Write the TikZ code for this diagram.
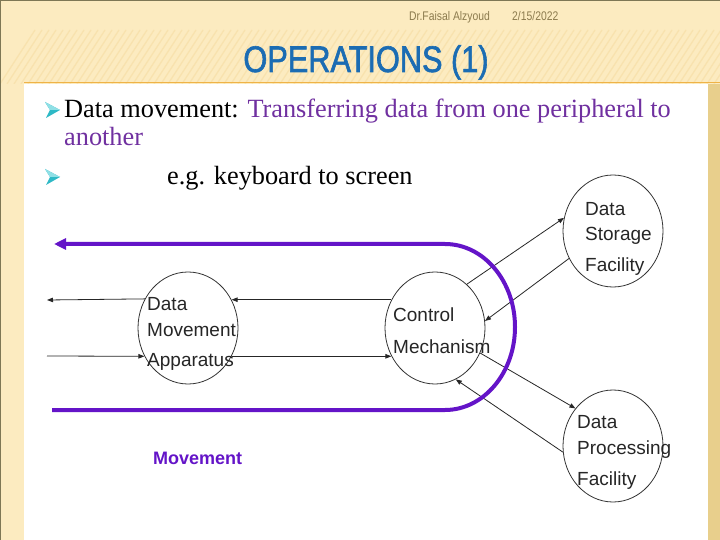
\documentclass[tikz,border=0pt]{standalone}
\usepackage{fontspec}
\setmainfont{Liberation Serif}
\newfontfamily\arialfont{Liberation Sans}
\newfontfamily\narrowfont[FakeStretch=0.83]{Liberation Sans}
\newfontfamily\titlefont[FakeStretch=0.83,FakeBold=1.6]{Liberation Sans}
\usetikzlibrary{arrows.meta,shapes.geometric}
\definecolor{bgcream}{HTML}{FCEBC0}
\definecolor{stripec}{HTML}{F8E2AE}
\definecolor{goldstrip}{HTML}{E8CF8C}
\definecolor{orangeline}{HTML}{EFB347}
\definecolor{borderc}{HTML}{7E7755}
\definecolor{headc}{HTML}{8C7B4E}
\definecolor{titleblue}{HTML}{1B6CB3}
\definecolor{textpurple}{HTML}{7030A0}
\definecolor{linepurple}{HTML}{6414C8}
\definecolor{bullett}{HTML}{2EB9C6}
\definecolor{bulletl}{HTML}{8FE0E6}
\begin{document}
\begin{tikzpicture}[x=1bp,y=-1bp,
  circ/.style={draw=black!80, line width=0.8bp, ellipse, minimum width=100bp, minimum height=112bp, inner sep=0pt},
  lab/.style={anchor=base west, inner sep=0pt, font=\arialfont\fontsize{19bp}{22bp}\selectfont, text=black!85},
  conn/.style={draw=black!85, line width=0.8bp, -{Triangle[length=6bp,width=4.5bp]}},
  pline/.style={draw=linepurple, line width=4bp},
  body/.style={anchor=base west, inner sep=0pt, font=\fontsize{26.3bp}{30bp}\selectfont},
  bulletsh/.style={fill=bullett},
]
\useasboundingbox (0,0) rectangle (720,540);
% background
\fill[bgcream] (0,0) rectangle (720,540);
\begin{scope}
  \clip (0,30) rectangle (720,84);
  \foreach \i in {0,7,...,760} {
    \draw[stripec, line width=1.3bp] (\i,84) -- (\i+35,30);
  }
\end{scope}
\fill[white] (24,84) rectangle (708,540);
\fill[goldstrip] (708,84) rectangle (720,540);
\draw[orangeline, line width=1bp] (24,83) -- (720,83);
\draw[borderc, line width=1.2bp] (0,0.6) -- (720,0.6);
\draw[borderc, line width=1.2bp] (0.6,0) -- (0.6,540);
% header
\node[anchor=base west, inner sep=0pt, text=headc, font=\narrowfont\fontsize{12.5bp}{14bp}\selectfont] (author) at (409,21) {Dr.Faisal Alzyoud};
\node[anchor=base west, inner sep=0pt, text=headc, font=\narrowfont\fontsize{12.5bp}{14bp}\selectfont] (date) at (512,21) {2/15/2022};
\node[anchor=base, inner sep=0pt, text=titleblue, font=\titlefont\fontsize{37bp}{40bp}\selectfont] (title) at (366,72) {OPERATIONS (1)};
% bullets
\fill[bulletsh] (45,102) -- (60,110) -- (46,118) -- (50,110) -- cycle;
\fill[bulletl] (45,102) -- (60,110) -- (50,110) -- cycle;
\fill[bulletsh] (45,169) -- (60,177) -- (46,185) -- (50,177) -- cycle;
\fill[bulletl] (45,169) -- (60,177) -- (50,177) -- cycle;
\node[body] (l1) at (64,118) {Data movement: \textcolor{textpurple}{Transferring data from one peripheral to}};
\node[body, text=textpurple] (l2) at (64,146) {another};
\node[body] (l3) at (167,185) {e.g. keyboard to screen};
% circles
\node[circ] (dma) at (188,328) {};
\node[circ] (ctrl) at (435,328) {};
\node[circ] (dsf) at (613,231) {};
\node[circ] (dpf) at (613,446) {};
% circle labels
\node[lab] (dma1) at (147,310) {Data};
\node[lab] (dma2) at (147,336) {Movement};
\node[lab] (dma3) at (147,366) {Apparatus};
\node[lab] (ctrl1) at (393,321) {Control};
\node[lab] (ctrl2) at (393,353) {Mechanism};
\node[lab] (dsf1) at (585,216) {Data};
\node[lab] (dsf2) at (585,241) {Storage};
\node[lab] (dsf3) at (585,272) {Facility};
\node[lab] (dpf1) at (577,428) {Data};
\node[lab] (dpf2) at (577,454) {Processing};
\node[lab] (dpf3) at (577,485) {Facility};
% free ends
\coordinate (outA) at (47,300);
\coordinate (inA) at (47,356);
% connectors
\draw[conn] (ctrl.147.1) -- (dma.33.4);
\draw[conn] (dma.146.6) -- (outA);
\draw[conn] (inA) -- (dma.213.4);
\draw[conn] (dma.-33.4) -- (ctrl.-147.1);
\draw[conn] (ctrl.54.2) -- (dsf.165.4);
\draw[conn] (dsf.212.1) -- (ctrl.8.1);
\draw[conn] (ctrl.-29) -- (dpf.135);
\draw[conn] (dpf.187) -- (ctrl.-68.8);
% purple movement loop
\coordinate (pend) at (54,244);
\coordinate (pstart) at (52,410);
\draw[pline, -{Triangle[length=12bp,width=11bp]}] (pstart) -- (445,410) arc[start angle=90, end angle=-90, x radius=70, y radius=83] -- (pend);
\node[anchor=base west, inner sep=0pt, text=linepurple, font=\arialfont\bfseries\fontsize{18bp}{20bp}\selectfont] (mv) at (153,464) {Movement};
\end{tikzpicture}
\end{document}
